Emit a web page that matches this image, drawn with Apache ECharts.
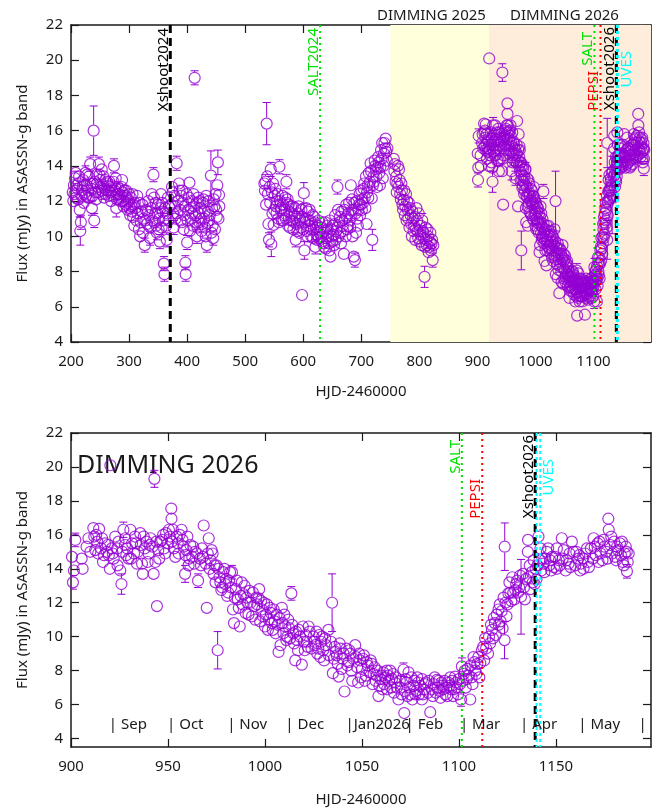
<!doctype html>
<html>
<head>
<meta charset="utf-8">
<title>ASASSN-g light curve</title>
<script src="https://cdn.jsdelivr.net/npm/echarts@6/dist/echarts.min.js"></script>
<style>
  html, body { margin: 0; padding: 0; background: #fff; }
  #container { width: 654px; height: 810px; }
</style>
</head>
<body>
<div id="container"></div>
<script>
// photometry: [HJD-2460000, flux (mJy), error]
var season2024 = [
  [203,12.5,.3],[204,12.0,.3],[205,12.9,.3],[206,12.4,.3],[207,13.3,.4],[208,13.6,.3],[209,12.2,.3],[210,12.9,.3],[211,12.7,.3],[212,12.1,.3],
  [213,13.0,.3],[214,13.4,.3],[215,11.5,.4],[216,10.3,.8],[217,10.8,.4],[218,12.3,.3],[219,12.6,.3],[220,12.8,.3],[221,13.2,.3],[222,11.9,.3],
  [223,12.4,.3],[224,12.9,.3],[225,13.6,.4],[226,12.3,.3],[227,12.9,.3],[228,13.5,.3],[229,12.2,.3],[230,12.6,.3],[231,13.4,.3],[232,12.2,.3],
  [233,14.1,.4],[234,13.0,.3],[235,12.7,.3],[236,11.6,.4],[237,12.3,.3],[238,13.0,.3],[239,16.0,1.4],[240,10.9,.4],[241,13.1,.3],[242,12.5,.3],
  [243,12.1,.3],[244,13.5,.3],[245,13.0,.3],[246,12.8,.3],[247,12.5,.3],[248,14.1,.4],[249,13.5,.3],[250,13.2,.3],[251,12.8,.3],[252,12.4,.3],
  [253,13.8,.3],[254,12.6,.3],[255,12.9,.3],[256,13.4,.3],[257,12.2,.3],[258,12.7,.3],[259,13.2,.3],[260,12.4,.3],[261,12.6,.3],[262,13.1,.3],
  [263,13.0,.3],[264,12.6,.3],[265,12.3,.3],[266,13.1,.3],[267,12.8,.3],[268,12.5,.3],[269,12.0,.3],[270,12.9,.3],[271,12.6,.3],[272,12.3,.3],
  [273,13.1,.3],[274,14.0,.4],[275,12.6,.3],[276,12.8,.3],[277,13.3,.3],[278,11.6,.5],[279,12.1,.3],[280,12.4,.3],[281,12.8,.3],[282,12.1,.3],
  [283,12.4,.3],[284,12.7,.3],[285,12.0,.3],[286,12.3,.3],[287,12.8,.3],[288,13.2,.3],[289,12.5,.3],[290,12.0,.3],[291,11.7,.3],[292,12.6,.3],
  [293,12.3,.3],[294,11.8,.3],[295,12.6,.3],[296,12.2,.3],[297,11.9,.3],[298,11.5,.3],[299,12.0,.3],[300,12.4,.3],[301,11.6,.3],[302,11.2,.3],
  [303,12.2,.3],[304,11.7,.3],[305,11.4,.3],[306,12.4,.3],[307,11.1,.3],[308,11.8,.3],[309,10.6,.3],[310,11.9,.3],[311,11.6,.3],[313,10.9,.3],
  [314,12.3,.3],[315,11.3,.3],[317,10.4,.3],[318,11.9,.3],[319,10.0,.3],[320,10.8,.3],[322,11.4,.3],[323,11.8,.3],[324,10.2,.3],[325,11.0,.3],
  [327,9.5,.4],[328,10.9,.3],[329,11.5,.3],[331,10.7,.3],[332,11.4,.3],[333,12.0,.3],[335,11.2,.3],[336,9.9,.4],[337,10.5,.3],[338,11.6,.3],
  [339,12.4,.3],[340,10.9,.3],[342,13.5,.4],[343,12.2,.3],[344,10.8,.3],[345,11.3,.3],[346,11.9,.3],[347,10.6,.3],[348,10.2,.4],[349,11.3,.3],
  [350,11.8,.3],[351,10.4,.3],[352,11.0,.3],[353,9.7,.4],[354,11.6,.3],[355,12.4,.3],[356,10.5,.3],[357,11.9,.3],[358,11.4,.3],[359,10.9,.3],
  [360,8.45,.4],[361,7.85,.4],[362,11.6,.3],[363,11.0,.3],[364,10.6,.3],[365,9.8,.4],[366,11.3,.3],[367,12.2,.3],[368,10.9,.3],[369,11.7,.3],
  [372,11.8,.3],[374,12.8,.3],[375,12.5,.3],[376,11.3,.3],[377,10.5,.4],[378,12.3,.3],[379,11.7,.3],[380,11.0,.3],[382,14.15,.4],[383,11.3,.3],
  [384,12.0,.3],[386,13.0,.3],[387,12.6,.3],[388,11.5,.3],[389,10.9,.3],[390,12.3,.3],[391,10.8,.3],[392,12.6,.3],[393,11.9,.3],[394,10.4,.3],
  [395,11.2,.3],[396,11.7,.3],[397,8.5,.4],[397.5,7.85,.4],[399,12.4,.3],[400,9.65,.4],[401,10.9,.3],[402,11.5,.3],[403,12.2,.3],[404,13.05,.3],
  [405,10.3,.3],[406,11.0,.3],[407,11.6,.3],[408,12.0,.3],[409,11.3,.3],[410,10.6,.3],[411,12.4,.3],[412,11.7,.3],[413,19.0,.4],[414,10.8,.3],
  [415,11.2,.3],[416,11.9,.3],[417,10.0,.4],[418,10.5,.3],[419,12.2,.3],[420,11.3,.3],[421,10.8,.3],[422,12.0,.3],[423,11.6,.3],[424,11.0,.3],
  [425,10.3,.3],[426,10.7,.3],[427,11.9,.3],[428,12.1,.3],[429,11.0,.3],[430,11.4,.3],[431,10.5,.3],[432,10.0,.3],[433,12.3,.3],[434,9.5,.4],
  [435,10.7,.3],[436,11.4,.3],[437,12.0,.3],[438,10.9,.3],[439,11.2,.3],[441,13.45,1.4],[442,10.2,.3],[443,11.6,.3],[444,10.6,.3],[445,9.9,.4],
  [446,12.1,.3],[447,11.7,.3],[448,10.4,.3],[449,12.4,.3],[450,11.5,.3],[451,11.1,.3],[452,12.9,.3],[453,14.2,.7],[454,11.0,.3],[455,12.35,.3],
  [455.5,11.7,.3]
];

var season2025 = [
  [533,13.0,.3],[534,12.6,.3],[535,13.1,.4],[536,11.8,.3],[537,16.4,1.2],[538,13.4,.3],[539,12.4,.3],[540,10.7,.3],[541,9.8,.4],[542,12.8,.3],
  [543,11.9,.3],[544,13.8,.4],[545,9.55,.7],[546,12.5,.3],[547,11.3,.3],[548,13.0,.3],[549,10.65,.3],[550,11.5,.3],[551,12.3,.3],[552,12.7,.3],
  [553,11.7,.3],[554,11.3,.3],[555,12.0,.3],[556,12.4,.3],[557,11.0,.3],[558,10.8,.3],[559,13.95,.4],[560,12.0,.3],[561,11.5,.3],[562,11.6,.3],
  [563,10.9,.3],[564,12.3,.3],[565,11.8,.3],[566,10.9,.3],[567,11.2,.3],[568,11.5,.3],[569,12.2,.3],[570,11.0,.3],[571,13.1,.4],[572,11.9,.3],
  [573,12.1,.3],[574,10.6,.3],[575,11.8,.3],[576,11.4,.3],[577,10.5,.3],[578,10.9,.3],[579,11.7,.3],[580,11.3,.3],[581,10.9,.3],[582,11.7,.3],
  [583,10.4,.3],[584,10.8,.3],[585,11.2,.3],[586,11.6,.3],[587,9.8,.4],[588,11.1,.3],[589,10.7,.3],[590,10.3,.3],[591,11.3,.3],[592,11.7,.3],
  [593,10.2,.3],[594,11.0,.3],[595,10.9,.3],[596,10.5,.3],[597,11.5,.3],[598,6.67,.3],[599,11.1,.3],[600,10.4,.3],[601,12.45,.6],[602,9.2,.5],
  [603,10.8,.3],[604,11.0,.3],[605,11.6,.3],[606,10.3,.3],[607,10.0,.3],[608,11.4,.3],[609,10.9,.3],[610,10.6,.3],[611,11.5,.3],[612,10.9,.3],
  [613,10.4,.3],[614,10.0,.3],[615,10.7,.3],[616,11.2,.3],[617,9.9,.3],[618,10.4,.3],[619,11.1,.3],[620,10.8,.3],[621,9.4,.4],[622,10.5,.3],
  [623,10.1,.3],[624,9.8,.3],[625,10.6,.3],[626,10.9,.3],[627,9.9,.3],[628,10.2,.3],[630,10.5,.3],[631,10.0,.3],[632,9.7,.3],[633,10.8,.3],
  [634,10.2,.3],[635,9.6,.3],[636,9.4,.3],[637,10.3,.3],[638,10.8,.3],[639,9.3,.3],[640,9.9,.3],[641,10.6,.3],[642,10.4,.3],[643,10.0,.3],
  [644,9.6,.3],[645,9.2,.3],[646,10.9,.3],[647,8.85,.3],[648,10.4,.3],[649,10.0,.3],[650,9.7,.3],[651,10.6,.3],[652,10.1,.3],[653,9.5,.3],
  [654,10.7,.3],[655,11.2,.3],[656,9.8,.3],[657,10.3,.3],[658,10.5,.3],[659,12.8,.4],[660,11.5,.3],[661,10.0,.3],[662,10.8,.3],[663,11.1,.3],
  [664,10.2,.3],[665,9.6,.3],[666,11.4,.3],[667,10.9,.3],[668,10.6,.3],[669,10.3,.3],[670,9.0,.3],[671,11.5,.3],[672,11.0,.3],[673,10.0,.3],
  [674,11.8,.3],[675,11.1,.3],[676,10.4,.3],[677,10.6,.3],[678,11.3,.3],[679,11.9,.3],[680,10.9,.3],[681,10.5,.3],[682,12.9,.3],[683,11.2,.3],
  [684,12.1,.3],[685,10.0,.3],[686,11.5,.3],[687,8.85,.3],[688,11.9,.3],[689,8.65,.4],[690,11.3,.3],[691,10.2,.3],[692,12.0,.3],[693,11.0,.3],
  [694,10.6,.3],[695,11.5,.3],[696,11.8,.3],[697,12.4,.3],[698,11.2,.3],[699,11.8,.3],[700,12.6,.3],[701,11.5,.3],[702,12.1,.3],[703,11.9,.3],
  [704,12.7,.3],[705,13.0,.3],[706,12.2,.3],[707,11.6,.3],[708,13.4,.3],[709,10.7,.3],[710,12.5,.3],[711,12.9,.3],[712,12.2,.3],[713,13.6,.3],
  [714,12.8,.3],[715,13.1,.3],[716,14.15,.3],[717,13.7,.3],[718,12.16,.3],[719,9.8,.6],[720,12.9,.3],[721,13.4,.3],[722,13.1,.3],[723,14.3,.3],
  [724,14.0,.3],[725,13.8,.3],[726,13.4,.3],[727,12.8,.3],[728,13.9,.3],[729,14.5,.3],[730,14.2,.3],[731,13.6,.3],[732,12.9,.3],[733,13.95,.3],
  [734,14.9,.3],[735,14.4,.3],[736,15.3,.3],[737,13.3,.3],[738,14.0,.3],[739,14.7,.3],[740,15.3,.3],[741,15.0,.3],[742,15.55,.3],[743,14.8,.3],
  [744,14.3,.3],[745,15.0,.3],[756,14.4,.3],[757,13.7,.3],[758,14.1,.3],[759,13.1,.3],[760,13.4,.3],[761,12.5,.3],[762,13.0,.3],[763,14.0,.3],
  [764,12.8,.3],[765,13.8,.3],[766,13.2,.3],[767,12.4,.3],[768,12.1,.3],[769,13.0,.3],[770,12.6,.3],[771,11.8,.3],[772,11.5,.3],[773,12.07,.3],
  [774,12.6,.3],[775,11.2,.3],[776,11.7,.3],[777,12.4,.3],[778,10.9,.3],[779,12.0,.3],[780,11.5,.3],[781,11.0,.3],[782,11.9,.3],[783,10.5,.3],
  [784,11.6,.3],[785,11.2,.3],[786,10.7,.3],[787,10.0,.3],[788,11.4,.3],[789,11.0,.3],[790,10.3,.3],[791,10.6,.3],[792,11.1,.3],[793,9.8,.3],
  [794,10.4,.3],[795,11.6,.3],[796,10.9,.3],[797,10.3,.3],[798,9.9,.3],[799,11.3,.3],[800,10.6,.3],[801,9.7,.3],[802,10.1,.3],[803,10.6,.3],
  [804,9.5,.3],[805,10.9,.4],[806,10.3,.3],[807,10.2,.3],[808,9.9,.3],[809,7.7,.6],[810,9.4,.3],[811,10.5,.3],[812,9.8,.3],[813,9.5,.3],
  [814,10.4,.3],[815,10.0,.3],[816,9.1,.3],[817,9.4,.3],[818,9.7,.4],[819,10.2,.3],[820,9.2,.3],[821,9.6,.3],[822,9.8,.3],[823,8.65,.4],
  [824,9.5,.3]
];

var season2026 = [
  [900.5,14.7,.3],[901,13.2,.4],[901.5,13.9,.3],[902.2,15.7,.4],[905.5,14.6,.3],[906,14.0,.3],[908,15.3,.3],[909,15.8,.3],[910,15.0,.3],[911.5,16.4,.3],
  [912,15.9,.3],[912.5,15.1,.3],[913,16.0,.3],[913.5,15.6,.3],[914,14.9,.3],[914.5,16.35,.3],[915.5,15.2,.3],[916,15.8,.3],[916.5,14.4,.3],[917,14.8,.3],
  [917.5,15.5,.3],[918.5,15.0,.3],[919,15.4,.3],[919.5,14.8,.3],[920,14.0,.3],[920.3,20.1,.3],[921,15.2,.3],[921.5,14.9,.3],[922,14.6,.3],[922.8,15.9,.3],
  [923.8,15.2,.3],[924,14.2,.3],[924.5,15.6,.3],[925.4,13.9,.3],[926,13.1,.6],[926.5,15.0,.3],[927,16.3,.45],[927.8,15.4,.3],[928,15.8,.3],[928.5,14.8,.3],
  [929,15.2,.3],[929.7,14.6,.3],[930.6,16.3,.3],[931,14.6,.3],[931.5,15.5,.3],[932.5,14.9,.3],[933,15.9,.3],[933.5,15.5,.3],[934,14.3,.3],[934.5,15.0,.3],
  [935.7,16.1,.3],[936,15.4,.3],[936.6,14.3,.3],[937,13.7,.3],[937.5,15.9,.3],[938,15.2,.3],[939,15.6,.3],[939.5,14.4,.3],[940,14.9,.3],[940.5,15.4,.3],
  [941,15.8,.3],[942,15.3,.3],[942.6,13.7,.3],[943,19.3,.5],[943.5,14.4,.3],[944,15.6,.3],[944.3,11.8,.3],[945,15.1,.3],[945.5,14.6,.3],[946,15.6,.3],
  [947,15.7,.3],[947.5,16.0,.3],[948,15.2,.3],[948.5,14.9,.3],[949,16.1,.3],[950,15.5,.3],[950.5,16.3,.3],[951,15.9,.3],[951.7,17.55,.3],[951.8,16.95,.3],
  [952,15.6,.3],[952.5,16.3,.3],[953,15.2,.3],[953.8,14.7,.3],[954.5,15.9,.3],[955,15.5,.3],[955.5,14.9,.3],[956,16.0,.3],[957,16.3,.3],[957.5,15.7,.3],
  [958,15.3,.3],[958.8,13.7,.5],[959,14.8,.3],[959.5,15.1,.3],[960,15.9,.3],[960.6,14.2,.3],[961,14.6,.3],[961.5,15.4,.3],[962.5,14.7,.3],[963,15.3,.3],
  [963.5,14.3,.3],[964,15.0,.3],[965,14.9,.3],[965.5,13.3,.4],[966.5,14.6,.3],[967,14.2,.3],[967.5,15.2,.3],[968,14.7,.3],[968.4,16.55,.3],[969.5,14.3,.3],
  [970,11.7,.3],[970.5,14.9,.3],[971,15.8,.3],[971.5,14.0,.3],[972,14.5,.3],[972.5,15.1,.3],[973,14.9,.3],[973.5,13.7,.3],[974,14.2,.3],[974.5,13.2,.3],
  [975,14.2,.3],[975.6,9.2,1.1],[976,14.0,.3],[976.5,13.5,.3],[977,13.2,.3],[977.5,12.75,.3],[978,12.9,.3],[978.5,13.8,.3],[979,14.0,.3],[979.5,13.1,.3],
  [980,13.4,.3],[980.5,12.4,.3],[981,12.6,.3],[981.5,13.3,.3],[982,13.8,.3],[982.5,12.9,.3],[983,13.8,.4],[983.5,11.6,.3],[984,10.8,.3],[984.5,12.3,.3],
  [985,12.8,.3],[985.5,13.3,.3],[986,12.2,.3],[986.5,11.7,.3],[987,10.6,.3],[987.5,12.4,.3],[988,13.2,.3],[988.5,11.9,.3],[989,12.5,.3],[989.5,13.0,.3],
  [990,11.4,.3],[990.5,12.3,.3],[991,12.0,.3],[991.5,11.3,.3],[992,12.7,.3],[992.5,12.0,.3],[993.3,11.2,.3],[993.8,12.6,.3],[994.5,11.8,.3],[995,11.0,.3],
  [995.5,12.3,.3],[996,11.9,.3],[996.7,12.26,.3],[997,12.8,.3],[997.5,10.9,.3],[998,12.1,.3],[998.5,11.6,.3],[999,11.2,.3],[999.5,12.0,.3],[1000,10.6,.3],
  [1000.5,11.3,.3],[1001,11.9,.3],[1001.5,10.4,.3],[1002,11.0,.3],[1002.5,11.7,.3],[1003,11.4,.3],[1003.5,10.8,.3],[1004,10.4,.3],[1004.5,11.6,.3],[1005,10.9,.3],
  [1005.5,10.2,.3],[1006,11.3,.3],[1006.5,10.7,.3],[1007,9.1,.3],[1007.5,11.1,.3],[1008,9.5,.3],[1008.7,11.7,.3],[1009,10.8,.3],[1009.5,10.2,.3],[1010,11.3,.3],
  [1010.5,10.6,.3],[1011,9.8,.3],[1011.5,10.0,.3],[1012,11.0,.3],[1012.5,10.5,.3],[1013,9.9,.3],[1013.6,12.55,.4],[1014,10.7,.3],[1014.5,10.2,.3],[1015,9.6,.3],
  [1015.6,8.6,.3],[1016,10.3,.3],[1016.5,9.8,.3],[1017,9.2,.3],[1017.5,10.4,.3],[1018,10.0,.3],[1019,8.35,.3],[1019.5,10.6,.3],[1020,9.7,.3],[1020.5,9.2,.3],
  [1021,10.1,.3],[1021.5,9.7,.3],[1022,9.4,.3],[1022.5,10.6,.3],[1023,10.3,.3],[1024,9.3,.3],[1025,10.0,.3],[1025.5,9.7,.3],[1026,9.5,.3],[1026.5,10.3,.3],
  [1027,9.0,.3],[1027.5,9.3,.3],[1028,10.1,.3],[1028.5,8.8,.3],[1029,9.7,.3],[1029.5,10.0,.3],[1030,9.2,.3],[1030.5,8.6,.3],[1031,9.9,.3],[1031.5,9.5,.3],
  [1032.7,10.4,.3],[1033,8.9,.3],[1034,9.7,.3],[1034.6,12.0,1.7],[1035,7.85,.3],[1035.5,8.7,.3],[1036,9.4,.3],[1036.5,9.1,.3],[1037,8.9,.3],[1037.5,8.4,.3],
  [1038,7.65,.3],[1038.5,9.6,.3],[1039,9.3,.3],[1039.5,8.1,.3],[1040,8.7,.3],[1040.5,9.0,.3],[1041,6.77,.3],[1042,9.3,.3],[1042.5,8.3,.3],[1043,8.5,.3],
  [1043.5,9.2,.3],[1044,9.0,.3],[1044.5,8.0,.3],[1045,7.4,.3],[1045.5,8.7,.3],[1046.5,9.5,.3],[1047,8.8,.3],[1047.5,8.2,.3],[1048,7.3,.3],[1048.5,9.0,.3],
  [1049,8.6,.3],[1049.5,7.6,.3],[1050,8.1,.3],[1050.5,8.7,.3],[1051,8.9,.3],[1051.5,7.4,.3],[1052,7.7,.3],[1052.5,8.5,.3],[1053,8.3,.3],[1054,7.9,.3],
  [1054.5,8.6,.3],[1055,8.4,.3],[1055.5,7.2,.3],[1056,7.8,.3],[1056.5,8.2,.3],[1057,7.4,.3],[1057.5,7.7,.3],[1058,8.0,.3],[1058.5,6.5,.3],[1059,7.1,.3],
  [1059.5,7.5,.3],[1060,7.7,.3],[1060.5,6.9,.3],[1061,7.9,.3],[1061.5,7.2,.3],[1062,7.6,.3],[1062.8,8.0,.3],[1063,6.9,.3],[1063.5,7.7,.3],[1064,7.4,.3],
  [1064.5,8.0,.3],[1065,7.0,.3],[1065.5,7.5,.3],[1066,7.8,.3],[1066.5,6.7,.3],[1067,7.3,.3],[1067.5,7.6,.3],[1068,7.0,.3],[1068.8,6.3,.3],[1069.5,7.4,.3],
  [1070,7.0,.3],[1070.5,6.6,.3],[1071.4,8.05,.4],[1071.8,5.5,.3],[1072,6.8,.3],[1072.5,7.5,.3],[1073,7.3,.3],[1073.5,6.5,.3],[1074,7.9,.3],[1074.5,7.0,.3],
  [1075,6.6,.3],[1075.5,7.6,.3],[1076,6.3,.3],[1076.5,7.1,.3],[1077,7.4,.3],[1077.5,6.6,.3],[1078,6.8,.3],[1078.5,7.6,.3],[1079,7.3,.3],[1079.5,6.6,.3],
  [1080,7.1,.3],[1080.9,6.3,.3],[1081,7.5,.3],[1081.5,6.6,.3],[1082,6.9,.3],[1082.5,7.2,.3],[1083,7.3,.3],[1084,6.7,.3],[1084.5,7.4,.3],[1085.2,5.55,.3],
  [1086,6.9,.3],[1086.5,6.5,.3],[1087,7.2,.3],[1087.5,7.6,.3],[1088,6.7,.3],[1088.6,7.45,.3],[1089,7.0,.3],[1089.5,7.4,.3],[1090,6.8,.3],[1090.5,6.4,.3],
  [1091,7.3,.3],[1091.5,7.1,.3],[1092,6.9,.3],[1092.5,7.4,.3],[1093,6.6,.3],[1093.5,7.0,.3],[1094,6.5,.3],[1094.5,7.3,.3],[1095,7.1,.3],[1095.5,7.6,.3],
  [1096,6.9,.3],[1096.5,7.4,.3],[1097,6.5,.3],[1097.5,6.9,.3],[1098,7.65,.3],[1098.5,7.3,.3],[1099,7.0,.3],[1099.5,6.6,.3],[1100,7.5,.3],[1100.5,7.2,.3],
  [1101.1,6.3,.4],[1101.5,8.25,.5],[1102,7.4,.3],[1102.5,7.8,.3],[1103,8.0,.3],[1103.5,7.0,.3],[1104,7.5,.3],[1104.5,8.1,.3],[1105,7.7,.3],[1105.8,6.3,.3],
  [1106,8.3,.3],[1106.5,7.6,.3],[1107,7.2,.3],[1107.5,8.8,.3],[1108,8.5,.3],[1108.5,8.0,.3],[1109,7.8,.3],[1109.5,8.4,.3],[1110,8.8,.3],[1110.5,7.6,.3],
  [1111,8.45,.3],[1111.8,9.2,.3],[1112.5,9.4,.3],[1113,8.6,.3],[1113.5,9.9,.3],[1114,9.3,.3],[1115,9.0,.3],[1115.5,10.0,.3],[1116,9.6,.3],[1116.5,10.7,.3],
  [1117,10.4,.3],[1117.5,9.9,.3],[1118,11.1,.3],[1118.5,10.8,.3],[1119,10.1,.3],[1119.5,11.3,.3],[1120.4,11.6,.3],[1120.5,10.7,.3],[1121,11.9,.3],[1121.5,10.9,.3],
  [1122,11.5,.3],[1122.5,10.5,.3],[1123,12.3,.3],[1123.5,9.8,1.1],[1123.6,15.3,1.4],[1124,12.0,.3],[1124.5,11.2,.3],[1125,11.9,.3],[1125.5,12.55,.3],[1126,13.2,.3],
  [1126.5,12.6,.3],[1127,12.1,.3],[1127.5,13.5,.3],[1128,12.6,.3],[1128.5,12.2,.3],[1129,12.75,.3],[1129.5,13.1,.3],[1130,13.3,.3],[1130.5,12.6,.3],[1131,12.9,.3],
  [1131.5,13.6,.3],[1132,12.35,2.2],[1133,13.7,.3],[1133.5,12.9,.3],[1134,12.2,.3],[1134.5,13.4,.3],[1135.5,15.0,.3],[1135.6,15.7,.3],[1136,13.5,.3],[1136.5,14.2,.3],
  [1137,12.8,.3],[1137.5,13.8,.3],[1138,13.2,.3],[1138.5,14.5,.3],[1139,13.1,.3],[1139.5,14.0,.3],[1140,13.4,.3],[1140.5,14.2,.3],[1141,15.9,.3],[1141.5,14.5,.3],
  [1142,15.2,.3],[1142.5,13.9,.3],[1143,14.6,.3],[1143.5,14.3,.3],[1144,13.8,.3],[1144.5,14.6,.3],[1145.3,15.0,.3],[1146,15.2,.3],[1146.5,14.2,.3],[1147,14.5,.3],
  [1147.5,13.9,.3],[1148,14.7,.3],[1149,14.1,.3],[1149.5,14.7,.3],[1150.4,14.0,.3],[1150.5,15.2,.3],[1151.5,14.5,.3],[1152,14.2,.3],[1153,15.8,.3],[1153.5,14.6,.3],
  [1154,15.1,.3],[1155,13.9,.3],[1155.5,14.5,.3],[1156.5,14.3,.3],[1157,14.9,.3],[1157.5,14.1,.3],[1158.2,15.6,.3],[1159,15.0,.3],[1160,14.2,.3],[1160.5,15.0,.3],
  [1161.5,14.6,.3],[1162,14.8,.3],[1162.5,13.9,.3],[1163,14.3,.3],[1164,14.6,.3],[1164.2,14.0,.3],[1165,14.9,.3],[1166,15.2,.3],[1166.5,14.4,.3],[1167,14.1,.3],
  [1168,15.2,.3],[1169,14.6,.3],[1169.4,15.8,.3],[1170,15.3,.3],[1170.5,14.8,.3],[1171.5,15.5,.3],[1172,14.4,.3],[1172.5,15.6,.3],[1173,14.9,.3],[1174,14.5,.3],
  [1174.5,15.7,.3],[1175,15.3,.3],[1176,15.0,.3],[1176.5,14.6,.3],[1177,16.95,.3],[1177.2,16.3,.3],[1178,15.4,.3],[1178.5,15.9,.3],[1179,14.9,.3],[1180,15.6,.3],
  [1180.5,14.7,.3],[1181,14.5,.3],[1181.5,15.3,.3],[1182,15.1,.3],[1183,15.5,.3],[1183.5,14.8,.3],[1184,15.6,.3],[1184.5,14.4,.3],[1185,14.2,.3],[1185.5,14.9,.3],
  [1186,15.3,.3],[1186.5,15.0,.3],[1186.6,13.85,.4],[1187,14.4,.3],[1187.5,14.9,.3]
];

// observing runs (vertical lines)
var eventNames = ['Xshoot2024', 'SALT2024', 'SALT', 'PEPSI', 'Xshoot2026', 'UVES', 'UVES'];
var eventHJD = [371, 629, 1101.5, 1112, 1139.3, 1140.0, 1141.9];

// dimming windows (shaded in the upper panel)
var dimming2025 = [750, 920];
var dimming2026Start = 920;

// month markers in the lower panel
var monthNames = ['| Sep', '| Oct', '| Nov', '| Dec', '|Jan2026', '| Feb', '| Mar', '| Apr', '| May', '|'];
var monthStart = [919.5, 949.5, 980.5, 1010.5, 1041.5, 1072.5, 1100.5, 1131.5, 1161.5, 1192.5];

var ticksTopX = [200, 300, 400, 500, 600, 700, 800, 900, 1000, 1100];
var ticksBottomX = [900, 950, 1000, 1050, 1100, 1150];
var ticksY = [4, 6, 8, 10, 12, 14, 16, 18, 20, 22];

var violet = '#9400d3';
var ink = '#1a1a1a';
var font = '"Noto Sans", sans-serif';
var markerSize = 11;
var markerRadius = 6;
var capHalf = 4;
var monthLabelFlux = 4.8;

// line style and label placement per run
var eventStyle = [
  { color: '#000000', width: 3, dash: [8, 5], side: 'left', dy: 3, label: true },
  { color: '#00e000', width: 2, dash: [2, 4], side: 'left', dy: 3, label: true },
  { color: '#00e000', width: 2, dash: [2, 4], side: 'left', dy: 7, label: true },
  { color: '#ff0000', width: 2, dash: [2, 4], side: 'left', dy: 46, label: true },
  { color: '#000000', width: 3, dash: [8, 5], side: 'left', dy: 2, label: true },
  { color: '#00ffff', width: 2, dash: [3, 3], side: 'right', dy: 26, label: false },
  { color: '#00ffff', width: 2, dash: [3, 3], side: 'right', dy: 26, label: true }
];

var allPoints = season2024.concat(season2025, season2026);

function lineStyleOf(c, w) { return { stroke: c, lineWidth: w }; }

function renderErrorBar(params, api) {
  var x = api.value(0), y = api.value(1), e = api.value(2);
  var c = api.coord([x, y]);
  var hi = api.coord([x, y + e])[1];
  var lo = api.coord([x, y - e])[1];
  if (c[1] - hi <= markerRadius) return null;
  return {
    type: 'group',
    children: [
      { type: 'line', shape: { x1: c[0], y1: hi, x2: c[0], y2: c[1] - markerRadius }, style: lineStyleOf(violet, 1) },
      { type: 'line', shape: { x1: c[0], y1: c[1] + markerRadius, x2: c[0], y2: lo }, style: lineStyleOf(violet, 1) },
      { type: 'line', shape: { x1: c[0] - capHalf, y1: hi, x2: c[0] + capHalf, y2: hi }, style: lineStyleOf(violet, 1) },
      { type: 'line', shape: { x1: c[0] - capHalf, y1: lo, x2: c[0] + capHalf, y2: lo }, style: lineStyleOf(violet, 1) }
    ]
  };
}

function renderEvent(params, api) {
  var i = api.value(1);
  var st = eventStyle[i];
  var cs = params.coordSys;
  var x = api.coord([api.value(0), 10])[0];
  var children = [{
    type: 'line',
    shape: { x1: x, y1: cs.y, x2: x, y2: cs.y + cs.height },
    style: { stroke: st.color, lineWidth: st.width, lineDash: st.dash }
  }];
  if (st.label) {
    var left = st.side === 'left';
    children.push({
      type: 'text',
      x: x + 1,
      y: cs.y + st.dy,
      rotation: Math.PI / 2,
      style: {
        text: eventNames[i], fill: st.color, font: '15px ' + font,
        align: 'right', verticalAlign: left ? 'bottom' : 'top'
      }
    });
  }
  return { type: 'group', children: children };
}

function renderMonth(params, api) {
  var p = api.coord([api.value(0), monthLabelFlux]);
  return {
    type: 'text', x: p[0], y: p[1],
    style: { text: monthNames[api.value(1)], fill: ink, font: '15px ' + font, align: 'left', verticalAlign: 'middle' }
  };
}

function eventData(minX) {
  var d = [];
  for (var i = 0; i < eventHJD.length; i++) {
    if (eventHJD[i] >= minX) d.push([eventHJD[i], i]);
  }
  return d;
}

function plain(v) { return String(v); }

var axisLine = { show: true, onZero: false, lineStyle: { color: ink, width: 1.5 } };
var labelStyle = { color: ink, fontSize: 15, fontFamily: font };

function xAxisPair(grid, min, max, ticks, nameGap) {
  return [{
    gridIndex: grid, type: 'value', position: 'bottom', min: min, max: max,
    axisLine: axisLine,
    axisTick: { inside: true, length: 8, customValues: ticks, lineStyle: { color: ink, width: 1.2 } },
    axisLabel: Object.assign({ customValues: ticks, margin: 12, formatter: plain }, labelStyle),
    splitLine: { show: false },
    name: 'HJD-2460000', nameLocation: 'middle', nameGap: nameGap, nameTextStyle: labelStyle
  }, {
    gridIndex: grid, type: 'value', position: 'top', min: min, max: max,
    axisLine: axisLine,
    axisTick: { inside: true, length: 8, customValues: ticks, lineStyle: { color: ink, width: 1.2 } },
    axisLabel: { show: false }, splitLine: { show: false }
  }];
}

function yAxisPair(grid, min, max) {
  return [{
    gridIndex: grid, type: 'value', position: 'left', min: min, max: max,
    axisLine: axisLine,
    axisTick: { inside: true, length: 8, customValues: ticksY, lineStyle: { color: ink, width: 1.2 } },
    axisLabel: Object.assign({ customValues: ticksY, margin: 8, formatter: plain }, labelStyle),
    splitLine: { show: false },
    name: 'Flux (mJy) in ASASSN-g band', nameLocation: 'middle', nameRotate: 90, nameGap: 41,
    nameTextStyle: labelStyle
  }, {
    gridIndex: grid, type: 'value', position: 'right', min: min, max: max,
    axisLine: axisLine,
    axisTick: { inside: true, length: 8, customValues: ticksY, lineStyle: { color: ink, width: 1.2 } },
    axisLabel: { show: false }, splitLine: { show: false }
  }];
}

var topMaxX = 1199;

var option = {
  animation: false,
  backgroundColor: '#ffffff',
  grid: [
    { left: 71, top: 25, width: 580, height: 317 },
    { left: 71, top: 433, width: 580, height: 314 }
  ],
  xAxis: xAxisPair(0, 200, topMaxX, ticksTopX, 42).concat(xAxisPair(1, 900, topMaxX, ticksBottomX, 45)),
  yAxis: yAxisPair(0, 4, 22).concat(yAxisPair(1, 3.5, 22)),
  graphic: [
    { type: 'text', left: 377, top: 8, style: { text: 'DIMMING 2025', fill: ink, font: '15px ' + font } },
    { type: 'text', left: 510, top: 8, style: { text: 'DIMMING 2026', fill: ink, font: '15px ' + font } },
    { type: 'text', left: 77, top: 453, style: { text: 'DIMMING 2026', fill: ink, font: '25px ' + font } }
  ],
  series: [
    {
      type: 'custom', xAxisIndex: 0, yAxisIndex: 0, renderItem: renderErrorBar,
      data: allPoints, encode: { x: 0, y: 1 }, clip: true, silent: true, z: 2
    },
    {
      type: 'scatter', xAxisIndex: 0, yAxisIndex: 0, symbol: 'circle', symbolSize: markerSize,
      data: allPoints.map(function (p) { return [p[0], p[1]]; }),
      itemStyle: { color: 'rgba(0,0,0,0)', borderColor: violet, borderWidth: 1.2 },
      silent: true, z: 3,
      markArea: {
        silent: true,
        data: [
          [{ xAxis: dimming2025[0], itemStyle: { color: '#ffffdc' } }, { xAxis: dimming2025[1] }],
          [{ xAxis: dimming2026Start, itemStyle: { color: '#fdedda' } }, { xAxis: topMaxX }]
        ]
      }
    },
    {
      type: 'custom', xAxisIndex: 0, yAxisIndex: 0, renderItem: renderEvent,
      data: eventData(200), encode: { x: 0 }, silent: true, z: 4
    },
    {
      type: 'custom', xAxisIndex: 2, yAxisIndex: 2, renderItem: renderErrorBar,
      data: allPoints, encode: { x: 0, y: 1 }, clip: true, silent: true, z: 2
    },
    {
      type: 'scatter', xAxisIndex: 2, yAxisIndex: 2, symbol: 'circle', symbolSize: markerSize,
      data: allPoints.map(function (p) { return [p[0], p[1]]; }), clip: true,
      itemStyle: { color: 'rgba(0,0,0,0)', borderColor: violet, borderWidth: 1.2 },
      silent: true, z: 3
    },
    {
      type: 'custom', xAxisIndex: 2, yAxisIndex: 2, renderItem: renderEvent,
      data: eventData(900), encode: { x: 0 }, silent: true, z: 4
    },
    {
      type: 'custom', xAxisIndex: 2, yAxisIndex: 2, renderItem: renderMonth,
      data: monthStart.map(function (m, i) { return [m, i]; }), encode: { x: 0 }, silent: true, z: 4
    }
  ]
};

var myChart = echarts.init(document.getElementById('container'));
myChart.setOption(option);
</script>
</body>
</html>
